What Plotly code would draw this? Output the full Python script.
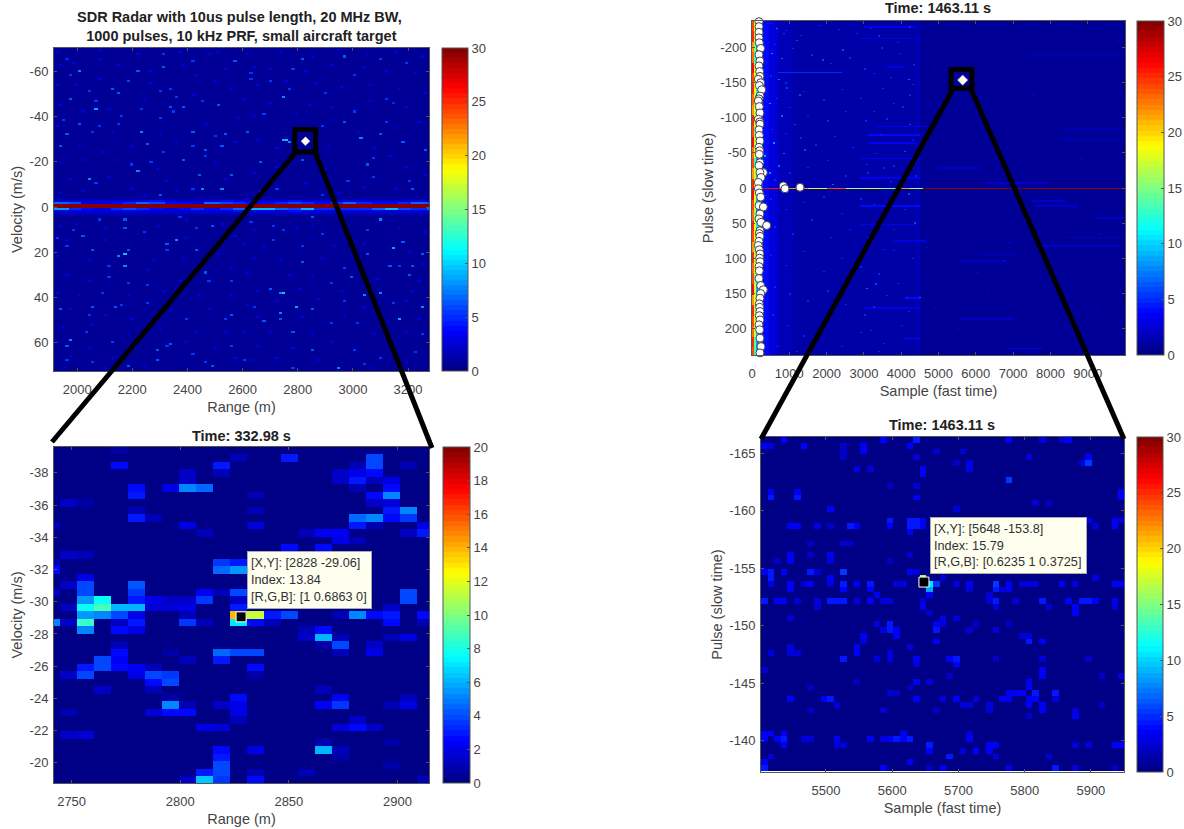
import numpy as np
import plotly.graph_objects as go

W, H = 1184, 829

# ---------- text ----------
TITLE_A = "SDR Radar with 10us pulse length, 20 MHz BW,<br> 1000 pulses, 10 kHz PRF, small aircraft target"
TITLE_B = "Time: 1463.11 s"
TITLE_C = "Time: 332.98 s"
TITLE_D = "Time: 1463.11 s"
TIP_C = "[X,Y]: [2828 -29.06]<br>Index: 13.84<br>[R,G,B]: [1 0.6863 0]"
TIP_D = "[X,Y]: [5648 -153.8]<br>Index: 15.79<br>[R,G,B]: [0.6235 1 0.3725]"

# ---------- tick labels ----------
A_XTICKS = [2000, 2200, 2400, 2600, 2800, 3000, 3200]
A_YTICKS = [-60, -40, -20, 0, 20, 40, 60]
B_XTICKS = [0, 1000, 2000, 3000, 4000, 5000, 6000, 7000, 8000, 9000]
B_YTICKS = [-200, -150, -100, -50, 0, 50, 100, 150, 200]
C_XTICKS = [2750, 2800, 2850, 2900]
C_YTICKS = [-38, -36, -34, -32, -30, -28, -26, -24, -22, -20]
D_XTICKS = [5500, 5600, 5700, 5800, 5900]
D_YTICKS = [-165, -160, -155, -150, -145, -140]
CB30_TICKS = [0, 5, 10, 15, 20, 25, 30]
CB20_TICKS = [0, 2, 4, 6, 8, 10, 12, 14, 16, 18, 20]

# ---------- panel A: range-Doppler, sparse (range m, velocity m/s, value) ----------
A_BASE = 0.5
A_RED_VALUE = 30
# profiles along range, one value per 50 m starting at 1916 m
A_ROW_M = [7,6,3,3,4,5,7,6,4,4,3,7,6,5,4,4,5,6,5,4,5,7,5,4,4,5,7,6]
A_ROW_P = [8,5,4,3,5,6,5,4,3,4,5,4,5,7,9,9,7,6,9,5,5,5,5,7,9,6,5,7]
A_ROW_M2 = [2.5,2,2,2.5,3,2.5,2.5,4,2.5,2,2,3,4,3,2.5,2.5,3,4,2.5,2.5,2.5,3,3,2.5,2.5,2.5,3,3]
A_ROW_P2 = [3,2.5,2.5,2.5,3,3,2.5,2.5,2.5,2,2.5,2.5,3,4,3,3,2.5,4,3,2.5,2.5,2.5,2.5,3,2.5,2.5,2.5,3]
A_DIM_ROWS = {-4: 1.4, -3: 1.9, 3: 2.0, 4: 1.3}
A_SPECKS = [
 (2005,-60.2,5),(2071,-43.5,6),(1972,-47.7,4),(2150,-49.9,4),(2226,-60.6,4),(2320,-61.9,4),(2316,-67.1,3),
 (2420,-64.9,3),(2574,-64.9,4),(2190,-55.3,3.5),(2123,-51.9,4),(2340,-44.3,4),(2356,-48.4,3),(2380,-44.3,4),
 (2352,-42.1,3),(2516,-45,4),(2453,-46.5,3),(2065,-46.5,3),(2011,-36.6,4),(2077,-36.2,3),(2156,-36.9,3),
 (2235,-33.5,5),(2417,-33.2,4),(1968,-31.8,4),(2053,-33.5,3),(2259,-27.6,4),(1944,-26.6,4),(2526,-27.3,4),
 (2538,-31.8,4),(2508,-31,3),(2471,-24.7,4),(2465,-22.2,3),(2417,-27.3,3),(2380,-21,4),(2265,-19.7,3),
 (2226,-16,5),(2441,-14.4,4),(2566,-14.4,4),(2041,-12.2,5),(2453,-8.2,5),(2417,-8.2,3),(2528,-8.2,5),
 (2299,-5.3,4),(2171,-2.6,5),(2095,-3,4),(2562,-3,4),(2047,-51.6,3),(2229,-43.5,3),(2301,-39.9,3),
 (2162,-40.6,3),(1956,-38.4,3),(2301,-51.2,3),(2344,-52.4,3),(2071,-10.4,3),(2198,-19,3),(2314,-24.4,3),
 (1974,-58.3,3),(1962,-65.6,2.5),
 (2974,-66.6,4),(2822,-65.6,4),(2780,-60.8,3),(3010,-58.7,3),(2628,-59,3),(2750,-48.7,5),(2901,-50.2,3),
 (3119,-47.2,3),(3143,-45.7,2.5),(2762,-29.5,7),(2750,-29.5,6),(2774,-29,5),(2616,-33.2,4),(2895,-36.2,3),
 (2968,-37.4,4),(3034,-30.6,5),(3101,-31.8,4),(3186,-28.5,4),(3265,-25.1,4),(3077,-21.7,3),(3059,-19.2,4),
 (2671,-20,4),(2814,-20.4,4),(2980,-11.9,3),(3077,-13.3,3),(3210,-11.9,3),(3222,-7.5,4),(2628,-56.8,3),
 (2774,-52.4,3),(2701,-55.3,3),(3010,-42,3),(2683,-41.3,3),(3101,-65.6,3),(3198,-64.1,3),(3125,-37.6,3),
 (2725,-8.2,3),(2889,-5.3,3),(2665,-6.7,3),(2774,-2.3,5),(3125,-3.1,4),
 (2171,21.2,7),(2156,21.5,5),(2186,19.5,4),(2360,14.6,5),(2326,16.1,4),(2177,26.7,5),(2059,19.3,4),
 (1968,17.1,3),(1926,13.4,3),(2017,12.4,4),(1984,10.2,3),(2178,5.3,4),(2174,9.2,4),(2241,10.9,3),
 (2435,9.2,3),(2495,8.7,4),(2471,29.3,4),(2429,19,4),(2332,19,3),(2120,26,3),(2114,30.8,3),(2180,33.4,3),
 (2253,34.5,3),(2483,32.6,3),(2562,33,3),(2095,38.2,3),(2053,44,4),(2144,44,4),(2168,43.3,3),(1938,44.8,4),
 (2041,47.7,3),(2259,42.6,3),(2398,49.2,3),(2556,47.7,4),(2532,50,3),(1980,58.8,5),(1968,61.3,4),
 (2126,59.5,3),(2289,63.5,4),(2344,60.5,4),(2326,61.7,3),(2289,68,4),(2186,70.1,4),(1962,68,3),(2059,68.3,3),
 (2471,68.3,3),(2495,70.8,4),(2423,64.7,3),(2556,61.7,3),(2035,55.1,3),(1926,3.6,4),(2035,3.9,4),(2083,5.3,3),
 (2495,3.6,3),(2374,5,3),
 (2792,4,6),(2859,5,4),(2883,3.6,3),(3101,6,5),(3143,18.3,6),(3186,15.6,4),(3259,20.5,4),(3059,21,4),
 (3131,26.7,4),(3216,26.7,4),(3168,26.7,3),(2992,31.1,4),(2968,27.4,3),(2816,24.2,4),(2822,17.2,3),
 (2713,14.6,3),(2750,10.5,3),(2895,12.1,3),(2747,38.2,7),(2735,38.2,5),(2697,36,4),(2792,44.3,6),(2737,47.3,5),
 (2683,51,4),(2737,50,4),(2780,54.6,4),(2853,44.8,4),(2919,33.7,3),(3040,38.5,5),(3101,37.7,5),(3168,49.6,6),
 (3259,44,5),(3210,30,4),(2968,41.1,3),(2925,51.7,3),(3016,51.7,3),(2853,62.7,4),(2943,71,5),(3047,69.5,3),
 (3101,66.9,3),(2604,68,3),(2786,71.3,3),(3010,62.7,3),(3228,64,3),(3259,55.8,3),(3150,42.6,3),(2640,44,3),
 (2628,6.5,3),(2713,8,3),(3059,10.2,3),
]
A_FAINT = [
 (1932,-68.3),(2077,-69),(2368,-68.3),(2314,-67.4),(2520,-68.6),(1938,-62.7),(1986,-63.8),(2083,-65.6),(2156,-62.7),(2217,-67.1),
 (2265,-59.7),(2386,-62.7),(2483,-67.1),(2538,-61.2),(1926,-53.8),(1998,-53.8),(2083,-56.8),(2265,-54.6),(2435,-58.3),(2508,-55.3),
 (1938,-45),(2023,-42),(2120,-43.5),(2241,-47.2),(2423,-49.4),(2556,-52.4),(1932,-36.2),(2132,-33.2),(2301,-32.5),(2471,-36.9),
 (2580,-39.1),(2011,-27.3),(2095,-24.4),(2192,-27.3),(2362,-28.8),(2568,-28.8),(1938,-20),(2023,-20.7),(2144,-20.7),(2289,-17),
 (2508,-20),(1974,-12.6),(2120,-13.4),(2326,-11.2),(2532,-12.6),(2023,-6.7),(2192,-8.2),(2362,-6.7),(1938,-6),(2241,-5.3),
 (2620,-67),(2740,-68.5),(2860,-66),(2950,-69),(3050,-67),(3160,-68),(3250,-66),(2640,-62),(2700,-61),(2830,-60),(2920,-63),(3040,-62),
 (3130,-60),(3230,-59),(2660,-54),(2760,-56),(2870,-55),(2960,-53),(3070,-54),(3170,-52),(3260,-50),(2610,-48),(2700,-46),(2840,-45),
 (2930,-44),(3060,-47),(3200,-44),(2640,-40),(2790,-41),(2930,-39),(3020,-33),(3160,-35),(3240,-38),(2660,-30),(2720,-26),(2910,-27),
 (3080,-26),(3140,-22),(2640,-15),(2720,-18),(2900,-17),(3000,-21),(3200,-18),(3260,-14),(2700,-11),(2830,-11),(3040,-9),(3160,-8),
 (2620,-5),(2950,-6),
 (1940,8),(2000,7),(2100,9),(2290,8),(2400,6),(2530,7),(1960,15),(2100,15),(2250,15),(2400,14),(2570,13),(1930,22),(2050,24),(2280,24),
 (2390,23),(2520,21),(1960,30),(2040,33),(2260,28),(2370,33),(2560,27),(1930,38),(2010,39),(2180,39),(2320,37),(2440,39),(2560,39),
 (1980,45),(2100,48),(2200,50),(2340,46),(2480,45),(1950,53),(2060,52),(2180,56),(2300,54),(2430,55),(2540,55),(1930,60),(2040,62),
 (2210,62),(2400,60),(2500,62),(1980,66),(2130,67),(2250,70),(2380,68),(2570,67),(1950,71),(2100,71),
 (2640,10),(2790,9),(2850,8),(2970,10),(3170,9),(3260,11),(2610,16),(2680,17),(2860,15),(2940,17),(3040,16),(3210,20),(2640,23),(2740,24),
 (2890,23),(3000,22),(3250,25),(2620,29),(2770,30),(2860,31),(3090,32),(3240,33),(2660,37),(2810,36),(2960,37),(3220,37),(2620,43),
 (2720,42),(2880,41),(3040,44),(3200,42),(2650,49),(2820,49),(2970,48),(3100,47),(3240,50),(2610,55),(2700,55),(2860,56),(3080,56),
 (3200,55),(2660,61),(2780,62),(2930,60),(3150,62),(2630,68),(2730,67),(2880,68),(3200,69),(3070,71),
]
A_TARGET = ([2828], [-29.06])

# ---------- panel B: full capture ----------
B_BANDS = [(180,300,6),(300,450,4),(450,700,2.5),(700,1100,1.8),(1100,2000,1.4),
           (2000,4420,1.0),(4420,4520,1.8),(4520,10000,0.5)]
# strip near sample 0: one value per 15 pulses from -238
B_STRIP_1 = [24,25,22,23,26,24,25,23,22,25,24,26,23,24,22,25,26,24,23,25,24,22,25,23,24,26,22,25,24,23,25,24]
B_STRIP_2 = [18,17,15,13,17,19,18,16,17,18,15,17,18,13,17,19,18,17,15,18,19,16,17,18,15,17,18,16,18,17,14,13]
B_STRIP_3 = [11,10,9,8,11,10,12,9,10,11,8,10,11,8,10,12,10,9,8,11,10,9,12,10,11,9,10,8,11,10,8,9]
B_ZERO_SEGMENTS = [(0,180,28),(180,1000,26),(1000,1500,22),(1500,2000,18),(2000,2500,24),(2500,3000,16),
                   (3000,3400,18),(3400,3900,15),(3900,4200,22),(4200,4600,16),(4600,10000,30)]
# bright pulses: (pulse, first sample, last sample, value)
B_STREAKS = [(-230,3000,4400,3),(-214,2900,4500,3),(-191,7400,10000,2.2),(-173,3600,4100,3),(-165,700,2400,5),
             (-88,3300,4700,3.5),(-84,8260,9960,2),(-76,3100,4500,4),(-70,8260,9960,1.9),(-65,3100,4400,3.5),
             (-43,2900,4500,3.5),(-29,5000,6100,2.2),(-15,2900,4500,3.5),(-8,6300,7900,2.2),(18,7500,8400,2.5),
             (25,2900,4500,4),(25,7600,8700,2.2),(42,9200,9960,2.2),(51,2900,4400,3.5),(70,8400,9960,2.2),
             (75,3800,4700,3),(82,7800,9860,2),(94,6100,7100,2.2),(103,5600,6800,2.2),(156,4100,4500,4),
             (170,3000,4500,3),(186,5600,7000,2.2),(214,4050,4500,4),(228,6900,7800,3.5)]
B_SPECKS = [(661,-228,7),(840,-221,6),(1198,-211,6),(527,-192,8),(795,-185,7),(706,-155,7),(930,-143,6),(1287,-133,6),
            (482,-121,8),(795,-103,7),(1153,-91,6),(572,-65,8),(840,-50,7),(1421,-55,6),(706,-32,7),(348,-46,9),
            (482,-22,8),(2136,-6,7),(1868,-183,6),(2405,-197,6),(3163,-228,5),(4236,-230,5),(3476,-200,5),(3968,-192,5),
            (4325,-176,5),(4191,-155,7),(3253,-164,5),(4236,-133,5),(3789,-121,5),(3253,-110,5),(4236,-91,6),(3431,-77,5),
            (4102,-53,6),(3074,-34,5),(3521,-29,5),(4370,-36,5),(6248,-105,3),(7544,-133,3),(8706,-110,3),(9332,-105,3),
            (6829,-58,3),(8170,-48,3),(9779,-147,3),(4191,8,6),(3253,23,5),(4370,49,6),(3789,58,5),(3521,87,5),(3297,136,6),
            (3056,142,7),(4147,155,6),(4486,155,7),(3521,221,5),(3163,202,5),(3253,169,5),(6024,120,4),(6739,103,4),
            (6873,77,4),(8617,27,3),(9332,65,3),(9242,169,3),(8170,131,3),(9868,188,3),(4683,84,4),(5756,79,3)]
B_FAINT_LEFT = [(500,-235),(900,-225),(1300,-218),(1800,-232),(2300,-226),(2800,-221),(3400,-217),(3900,-208),(600,-205),(1100,-199),
                (1600,-190),(2100,-178),(2600,-186),(3000,-170),(3700,-158),(4300,-148),(500,-160),(900,-150),(1400,-138),(1900,-126),
                (2400,-141),(2900,-128),(3500,-142),(4050,-116),(650,-128),(1000,-115),(1500,-104),(2000,-96),(2500,-110),(3050,-96),
                (3600,-99),(4300,-68),(520,-84),(900,-78),(1300,-72),(1700,-62),(2200,-74),(2700,-58),(3300,-50),(3800,-32),
                (600,-12),(1000,-22),(1500,-30),(2000,-40),(2500,-18),(3100,-22),(3700,-10),(4400,-18),(500,15),(900,30),(1400,20),
                (1900,12),(2400,36),(2900,15),(3500,34),(4100,30),(600,55),(1100,65),(1600,45),(2100,70),(2600,58),(3100,70),(3800,88),
                (4300,100),(500,95),(900,110),(1400,90),(1900,118),(2400,100),(2900,112),(3400,122),(3900,135),(600,140),(1000,150),
                (1500,160),(2000,146),(2500,165),(3000,180),(3600,152),(4200,175),(550,180),(950,195),(1400,210),(1900,190),(2400,225),
                (2900,205),(3400,232),(4000,195),(700,225),(1200,232)]
B_FAINT_RIGHT = [(4800,-225),(5400,-205),(6000,-232),(6600,-212),(7200,-226),(7900,-205),(8500,-218),(9200,-228),(9800,-210),(4900,-170),
                 (6400,-165),(7000,-178),(7700,-160),(8300,-172),(9000,-155),(9600,-168),(5000,-120),(5500,-100),(6100,-130),(6800,-112),
                 (7400,-95),(8000,-128),(8800,-90),(9500,-118),(5200,-55),(5900,-60),(6500,-40),(7200,-50),(8000,-30),(8800,-42),(9500,-25),
                 (4800,35),(5400,50),(6000,30),(6700,60),(7300,45),(8000,65),(9000,40),(9700,55),(5000,110),(5600,130),(6300,150),(7000,125),
                 (7700,110),(8400,145),(9100,120),(9800,135),(4900,170),(5500,200),(6100,185),(6800,210),(7500,180),(8200,205),(8900,225),(9500,195)]
# detections, sample then pulse
B_DETECT_SAMPLE = [188,188,188,188,196,232,188,214,188,205,214,170,232,196,259,214,188,170,196,214,170,205,214,188,196,214,188,205,
                   196,214,188,304,214,241,170,840,1287,885,170,196,232,188,304,214,188,241,393,214,196,214,188,170,196,214,205,214,188,
                   196,188,232,304,232,214,196,205,214,196,214,188,205,214,241,214]
B_DETECT_PULSE = [-237,-230,-222,-214,-207,-199,-190,-181,-174,-166,-159,-155,-150,-146,-140,-131,-127,-124,-116,-107,-98,-94,-91,-83,
                  -75,-67,-58,-53,-48,-36,-32,-22,-22,-15,-8,-3,-1,1,1,7,13,25,27,37,44,49,53.4,61,65,69,76,82,88,94,100,105,112,118,129,
                  139,145,150.4,157,165,170,176,182,188,195,202,214,226,235]

# ---------- panel C: zoomed range-Doppler (row, column, value) ----------
C_CELLS = {
 0:[(4,.9)], 1:[(11,1),(14,3),(19,4)], 2:[(4,2.5),(10,3),(18,1),(19,4),(21,1)], 3:[(8,1.3),(10,1),(17,1.3),(18,2),(19,2.8)],
 4:[(8,1.5),(17,1.3),(18,3),(19,1),(20,2)], 5:[(5,2.5),(7,2),(8,5),(9,4.5),(18,1.2),(20,2.5)],
 6:[(5,3),(12,1.2),(19,2.8),(20,5.2)], 7:[(1,1.5),(2,.9),(19,1.5),(20,1.8)], 8:[(5,1.2),(12,1),(20,3),(21,5)],
 9:[(5,3),(6,1),(18,4.5),(19,5),(20,2.5),(21,3.5)], 10:[(0,1.2),(8,2),(12,1.6),(18,3),(19,1),(22,2)],
 11:[(9,1),(15,1.2),(16,2.2),(17,2.3),(21,1.5),(22,3)], 12:[(17,2),(18,1)], 13:[(14,2.5),(16,2.5)], 14:[(1,1.4),(2,1)],
 15:[(0,1),(10,3.5),(11,3)], 16:[(0,2.5),(10,4.5),(11,5.5),(12,5)], 17:[(2,2)], 18:[(1,1.4),(2,4),(5,4.2)],
 19:[(0,1.5),(2,4),(5,3.5),(9,2.2),(10,1.2),(11,4),(21,4)],
 20:[(2,5.5),(3,7.5),(5,3),(6,2),(7,1.5),(8,1.3),(9,3.5),(11,1.5),(21,4)],
 21:[(1,1.5),(2,7.5),(3,9),(4,6),(5,6),(6,1.8),(7,1.8),(8,2),(11,3),(20,1.5)],
 22:[(2,5.5),(3,5),(4,4),(5,2),(8,1),(11,13.84),(12,11.5),(13,3),(14,4),(17,1),(18,5),(19,2.5),(20,3),(22,2.5)],
 23:[(0,5),(1,1.5),(2,8.5),(4,1.5),(5,3),(8,3.5),(9,1),(11,7),(12,2.5),(13,1),(20,2.8),(22,1)],
 24:[(2,5),(4,2.5),(5,2),(15,1),(16,2.8)], 25:[(15,1.3),(16,6),(17,1.2),(20,1.2),(21,2)], 26:[(4,1),(16,.8),(17,4),(19,1.5)],
 27:[(4,2.5),(7,.9),(10,4.5),(11,4),(12,4),(17,1),(19,2)], 28:[(3,4),(4,2.2),(8,1),(10,3)],
 29:[(2,3),(3,4),(4,2.5),(5,2.2),(6,1.2),(12,2.5)], 30:[(1,1.4),(2,4),(5,2),(6,4),(7,3.5),(12,.9)], 31:[(6,2.5),(7,4)],
 32:[(3,1.3),(6,1),(16,1.2)], 33:[(7,.8),(11,2.5),(17,2.2),(21,1.2)],
 34:[(7,5),(8,1),(10,1.5),(11,2),(16,2.2),(17,3.5),(20,1.2),(21,2)], 35:[(1,1.1),(6,1.6),(7,2.5),(8,2.5),(11,2)],
 36:[(11,1),(18,1.5)], 37:[(9,2),(10,1.8),(17,1.8),(18,2.5),(19,1.5)], 38:[(1,1.3),(2,1.6)], 39:[(16,1.2),(20,.9)],
 40:[(10,2.5),(12,2),(16,6),(17,1)], 41:[(10,3),(17,.9)], 42:[(10,4),(20,.8)], 43:[(9,3),(10,4),(12,1),(15,1.2)],
 44:[(8,1.5),(9,6.5),(10,3.5),(12,2.8),(22,1)],
}
C_TARGET = ([2828], [-29.06])

# ---------- panel D: zoomed capture (column, row, value) ----------
D_CELLS = [
 (3,0,3),(18,0,3),(23,0,4),(37,0,3),(42,0,2),(45,0,2),(46,0,3),(0,1,3),(1,1,2),(6,1,3),(12,1,1.5),(15,1,3),(22,1,3),
 (15,2,3),(26,2,2),(30,2,2),(12,2,1.5),(23,3,2),(12,3,1.5),(40,3,2),(49,3,3),(31,4,2.5),(48,4,2),(49,4,5),(29,4,1.5),
 (14,5,2.5),(16,5,2),(24,5,3),(31,5,2.5),(24,6,3),(37,7,5),(19,8,1.5),(23,8,2),(1,9,3),(5,9,3),(54,9,3),(1,10,4),(5,10,4),
 (23,10,3),(54,10,3),(41,11,2),(43,11,1.5),(10,12,3),(29,12,2),(19,14,4),(22,14,4),(23,14,4),(24,14,3),(49,14,3),(53,14,3),
 (54,14,2),(19,15,3),(22,15,4),(23,15,4),(24,15,3),(4,15,3),(5,15,3),(8,15,2.5),(10,15,1.5),(13,15,4),(14,15,3),(53,15,3),
 (50,15,2),(22,16,3),(7,18,1.5),(12,18,2),(13,18,1.5),(4,20,3),(7,20,1.5),(10,20,3),(22,20,1.5),(4,21,3),(10,21,2),(2,21,1.5),
 (19,21,1.5),(0,23,3),(1,23,4),(8,23,2),(22,23,3),(3,23,3),(7,23,4),(23,23,2),(12,23,5),(1,24,4),(10,24,3),(27,24,2),(50,24,2),
 (24,24,15.79),(1,25,2),(4,25,3),(6,25,2),(7,25,3),(10,25,2),(12,25,4),(14,25,3),(16,25,4),(20,25,2),(21,25,2),(25,25,10),
 (26,25,5),(24,25,3),(29,25,2),(31,25,3),(35,25,5),(37,25,3),(41,25,2),(45,25,3),(53,25,3),(54,25,3),(40,25,2),(39,25,2),
 (47,25,2),(4,26,3),(12,26,3),(16,26,3),(25,26,8),(31,26,2),(35,26,4),(37,26,3),(36,26,2),(17,27,3),(25,27,3),(34,27,2),
 (0,28,4),(2,28,3),(3,28,3),(5,28,2),(8,28,2),(10,28,4),(11,28,4),(12,28,4),(14,28,2),(16,28,3),(18,28,2),(19,28,2),(24,28,2),
 (34,28,2),(35,28,4),(38,28,2),(42,28,4),(46,28,3),(48,28,4),(49,28,4),(50,28,3),(53,28,3),(8,29,2),(24,29,3),(35,29,2),
 (43,29,2),(47,29,3),(53,29,2),(25,30,1.5),(47,30,3),(4,31,2),(27,31,3),(29,31,2),(17,32,2),(19,32,4),(26,32,3),(27,32,2),
 (32,32,1.5),(37,32,1.5),(19,33,4),(20,33,3),(18,33,2),(26,33,4),(31,33,2),(35,33,2),(20,34,3),(15,34,3),(40,34,2),(39,34,2),
 (15,35,2),(26,35,3),(40,35,4),(42,35,3),(14,36,3),(4,36,2),(22,36,2),(14,37,3),(4,37,2),(5,37,2),(1,37,2),(19,37,2),(12,38,4),
 (17,38,2),(19,38,2),(23,38,3),(28,38,3),(29,38,4),(42,38,2),(35,38,1.5),(49,38,1.5),(23,39,2),(29,39,3),(0,40,1.5),(42,40,3),
 (42,41,3),(28,41,1.5),(51,41,1.5),(54,41,2),(23,42,3),(25,42,2),(14,42,1.5),(40,42,3),(7,43,1.5),(40,43,3),(22,43,1.5),
 (19,44,2),(20,44,1.5),(37,44,3),(38,44,3),(39,44,3),(41,44,4),(44,44,4),(4,45,3),(9,45,3),(10,45,4),(23,45,3),(29,45,3),
 (27,45,2),(32,45,2),(36,45,3),(37,45,3),(40,45,3),(41,45,3),(44,45,2),(30,46,2),(31,46,2),(40,46,3),(42,46,3),(34,46,2),
 (11,46,2),(51,46,1.5),(34,47,2),(47,47,2),(18,47,2),(26,47,1.5),(7,47,1.5),(42,47,3),(47,48,3),(40,48,1.5),(0,51,3),(1,51,3),
 (3,51,3),(21,51,3),(31,51,2),(2,52,3),(3,52,4),(0,52,3),(6,52,2),(7,52,2),(11,52,3),(16,52,3),(19,52,3),(20,52,4),(21,52,3),
 (22,52,4),(18,52,2),(31,52,3),(3,53,3),(11,53,2),(12,53,2),(25,53,4),(34,53,3),(35,53,3),(47,53,2),(49,53,2),(53,53,3),
 (54,53,3),(25,54,3),(34,54,3),(30,54,2),(32,54,3),(35,55,2),(28,55,4),(43,55,2),(1,55,2),(0,56,3),(22,56,3),(0,57,4),(18,57,3),
 (25,57,1.5),(27,57,3),(37,57,3),(44,57,4),(47,57,2),(53,57,1.5),
]
D_TARGET = ([5648], [-153.8])

# ---------- grids ----------
A_X = 1916 + 11.73 * np.arange(117)
A_K = np.arange(-78, 81)
A_Y = 0.15 + 0.9 * A_K
z_a = np.full((A_Y.size, A_X.size), A_BASE, dtype=float)
for x, y in A_FAINT:
    z_a[np.abs(A_Y - y).argmin(), np.abs(A_X - x).argmin()] = 3.2
for x, y, v in A_SPECKS:
    z_a[np.abs(A_Y - y).argmin(), np.abs(A_X - x).argmin()] = v + 2.5
for k, lvl in A_DIM_ROWS.items():
    z_a[k + 78, :] = lvl
for prof, k in ((A_ROW_M, -2), (A_ROW_P, 1), (A_ROW_M2, -3), (A_ROW_P2, 2)):
    for i, x in enumerate(A_X):
        z_a[k + 78, i] = prof[min(int((x - 1916) // 50), len(prof) - 1)]
for k in (-1, 0):
    z_a[k + 78, :] = A_RED_VALUE

B_X = 27.0 * np.arange(371) + 13.5
B_Y = np.arange(-238, 239, dtype=float)
z_b = np.full((B_Y.size, B_X.size), 1.0)
for s0, s1, v in B_BANDS:
    z_b[:, (B_X >= s0) & (B_X < s1)] = v
for r, y in enumerate(B_Y):
    idx = min(int((y + 238) // 15), len(B_STRIP_1) - 1)
    z_b[r, B_X < 60] = B_STRIP_1[idx]
    z_b[r, (B_X >= 60) & (B_X < 120)] = B_STRIP_2[idx]
    z_b[r, (B_X >= 120) & (B_X < 180)] = B_STRIP_3[idx]
def paint_b(s, p, v):
    r = int(round(p + 238))
    c = int(np.abs(B_X - s).argmin())
    z_b[r:r + 2, c:c + 2] = v
for s, p in B_FAINT_LEFT:
    paint_b(s, p, 5)
for s, p in B_FAINT_RIGHT:
    paint_b(s, p, 2.4)
for p, s0, s1, v in B_STREAKS:
    r = int(p + 238)
    z_b[r:r + 2, (B_X >= s0) & (B_X <= s1)] = v
for s, p, v in B_SPECKS:
    paint_b(s, p, v)
for s0, s1, v in B_ZERO_SEGMENTS:
    z_b[238, (B_X >= s0) & (B_X < s1)] = v

C_X = 2748.6 + 7.82 * (np.arange(23) - 1)
C_Y = -39.39 + 0.465 * np.arange(45)
z_c = np.full((45, 23), 0.2)
for r, cells in C_CELLS.items():
    for c, v in cells:
        z_c[r, c] = v

D_X = 5407 + 10.0 * np.arange(55)
D_Y = -166.15 + 0.5 * np.arange(58)
z_d = np.full((58, 55), 0.35)
for c, r, v in D_CELLS:
    z_d[r, c] = v + 0.5 if v < 15 else v

# ---------- colour ----------
def jet_rgb(t):
    r = np.clip(min(4 * t - 1.5, -4 * t + 4.5), 0, 1)
    g = np.clip(min(4 * t - 0.5, -4 * t + 3.5), 0, 1)
    b = np.clip(min(4 * t + 0.5, -4 * t + 2.5), 0, 1)
    return "rgb(%d,%d,%d)" % (r * 255, g * 255, b * 255)

JET = []
for i in range(64):
    c = jet_rgb((i + 0.5) / 64)
    JET += [[i / 64, c], [(i + 1) / 64, c]]

AX = "#555555"
TXT = "#444444"
FONT = "Liberation Sans, Arial, sans-serif"

def labels(vals):
    return [str(v) for v in vals]

def cbar(px0, py0, px1, py1, tickvals):
    return dict(x=px0 / W, xanchor="left", y=1 - py1 / H, yanchor="bottom", len=(py1 - py0) / H, lenmode="fraction",
                thickness=px1 - px0, thicknessmode="pixels", xpad=0, ypad=0, outlinecolor=AX, outlinewidth=1,
                ticks="inside", ticklen=3, tickcolor=AX, tickmode="array", tickvals=tickvals, ticktext=labels(tickvals),
                tickfont=dict(size=13, color=TXT, family=FONT))

def xax(px0, px1, rng, ticks, title, anchor):
    return dict(domain=[px0 / W, px1 / W], range=rng, tickmode="array", tickvals=ticks, ticktext=labels(ticks), anchor=anchor,
                showgrid=False, zeroline=False, automargin=False, showline=True, mirror="ticks", linecolor=AX, linewidth=1,
                ticks="inside", ticklen=3, tickcolor=AX, ticklabelstandoff=6, tickangle=0,
                tickfont=dict(size=13, color=TXT, family=FONT),
                title=dict(text=title, standoff=6, font=dict(size=14.5, color=TXT, family=FONT)))

def yax(py0, py1, rng, ticks, title, anchor):
    return dict(domain=[1 - py1 / H, 1 - py0 / H], range=rng, tickmode="array", tickvals=ticks, ticktext=labels(ticks), anchor=anchor,
                showgrid=False, zeroline=False, automargin=False, showline=True, mirror="ticks", linecolor=AX, linewidth=1,
                ticks="inside", ticklen=3, tickcolor=AX, ticklabelstandoff=2,
                tickfont=dict(size=13, color=TXT, family=FONT),
                title=dict(text=title, standoff=3, font=dict(size=14.5, color=TXT, family=FONT)))

fig = go.Figure()
fig.add_heatmap(x=A_X, y=A_Y, z=z_a, coloraxis="coloraxis", xaxis="x", yaxis="y", hoverinfo="skip")
fig.add_heatmap(x=B_X, y=B_Y, z=z_b, coloraxis="coloraxis2", xaxis="x2", yaxis="y2", hoverinfo="skip")
fig.add_heatmap(x=C_X, y=C_Y, z=z_c, coloraxis="coloraxis3", xaxis="x3", yaxis="y3", hoverinfo="skip")
fig.add_heatmap(x=D_X, y=D_Y, z=z_d, coloraxis="coloraxis4", xaxis="x4", yaxis="y4", hoverinfo="skip")

fig.add_scatter(x=A_TARGET[0], y=A_TARGET[1], mode="markers",
                marker=dict(symbol="diamond", color="white", size=7, line=dict(color="#999999", width=0.5)),
                xaxis="x", yaxis="y", showlegend=False, hoverinfo="skip")
fig.add_scatter(x=B_DETECT_SAMPLE, y=B_DETECT_PULSE, mode="markers",
                marker=dict(symbol="circle", color="white", size=8, line=dict(color="#444444", width=1)),
                xaxis="x2", yaxis="y2", showlegend=False, hoverinfo="skip", cliponaxis=False)
fig.add_scatter(x=D_TARGET[0], y=D_TARGET[1], mode="markers",
                marker=dict(symbol="diamond", color="white", size=8, line=dict(color="#999999", width=0.5)),
                xaxis="x2", yaxis="y2", showlegend=False, hoverinfo="skip")
tip = dict(symbol="square", color="black", size=10, line=dict(color="white", width=1))
fig.add_scatter(x=C_TARGET[0], y=C_TARGET[1], mode="markers", marker=tip, xaxis="x3", yaxis="y3", showlegend=False, hoverinfo="skip")
fig.add_scatter(x=D_TARGET[0], y=D_TARGET[1], mode="markers", marker=tip, xaxis="x4", yaxis="y4", showlegend=False, hoverinfo="skip")

def box(xref, yref, x0, x1, y0, y1):
    return dict(type="rect", xref=xref, yref=yref, x0=x0, x1=x1, y0=y0, y1=y1, line=dict(color="black", width=5), layer="above")

def conn(px0, py0, px1, py1):
    return dict(type="line", xref="paper", yref="paper", x0=px0 / W, x1=px1 / W, y0=1 - py0 / H, y1=1 - py1 / H,
                line=dict(color="black", width=5), layer="above")

def title(text, px, py):
    return dict(text="<b>%s</b>" % text, xref="paper", yref="paper", x=px / W, y=1 - py / H, xanchor="center", yanchor="middle",
                showarrow=False, font=dict(size=14.5, color="#222222", family=FONT))

def datatip(text, px0, py0, px1, py1):
    return dict(text=text, xref="paper", yref="paper", x=px0 / W, y=1 - py0 / H, xanchor="left", yanchor="top", align="left",
                showarrow=False, width=px1 - px0 - 8, height=py1 - py0 - 8, bgcolor="#FFFFF0", bordercolor="#AAAAAA", borderwidth=1,
                borderpad=3, font=dict(size=12.7, color="#303030", family=FONT))

fig.update_layout(
    width=W, height=H, autosize=False, margin=dict(l=0, r=0, t=0, b=0, autoexpand=False), paper_bgcolor="white", plot_bgcolor="white",
    showlegend=False, font=dict(family=FONT),
    xaxis=xax(54, 429, [1916, 3276], A_XTICKS, "Range (m)", "y"),
    yaxis=yax(48, 371, [72.4, -70.2], A_YTICKS, "Velocity (m/s)", "x"),
    xaxis2=xax(752, 1125, [0, 10000], B_XTICKS, "Sample (fast time)", "y2"),
    yaxis2=yax(21, 355, [238, -238], B_YTICKS, "Pulse (slow time)", "x2"),
    xaxis3=xax(54, 429, [2741.9, 2914.5], C_XTICKS, "Range (m)", "y3"),
    yaxis3=yax(447, 783, [-18.75, -39.6], C_YTICKS, "Velocity (m/s)", "x3"),
    xaxis4=xax(761, 1124, [5402, 5950], D_XTICKS, "Sample (fast time)", "y4"),
    yaxis4=yax(437, 772, [-137.3, -166.4], D_YTICKS, "Pulse (slow time)", "x4"),
    coloraxis=dict(colorscale=JET, cmin=0, cmax=30, colorbar=cbar(442, 48, 468, 371, CB30_TICKS)),
    coloraxis2=dict(colorscale=JET, cmin=0, cmax=30, colorbar=cbar(1137, 21, 1164, 355, CB30_TICKS)),
    coloraxis3=dict(colorscale=JET, cmin=0, cmax=20, colorbar=cbar(443, 447, 470, 783, CB20_TICKS)),
    coloraxis4=dict(colorscale=JET, cmin=0, cmax=30, colorbar=cbar(1137, 437, 1163, 772, CB30_TICKS)),
    shapes=[box("x", "y", 2789, 2865, -34.2, -24.3), box("x2", "y2", 5335, 5898, -169, -142),
            conn(296, 152, 52, 442), conn(315, 152, 432, 448), conn(953, 89, 761, 439), conn(971, 89, 1124, 439)],
    annotations=[title(TITLE_A, 239, 27), title(TITLE_B, 938, 8), title(TITLE_C, 241, 436), title(TITLE_D, 942, 425),
                 datatip(TIP_C, 247, 551, 372, 609), datatip(TIP_D, 930, 517, 1087, 574)],
)
fig.write_html("out.html", config=dict(displayModeBar=False), post_script="document.body.style.margin='0';")
